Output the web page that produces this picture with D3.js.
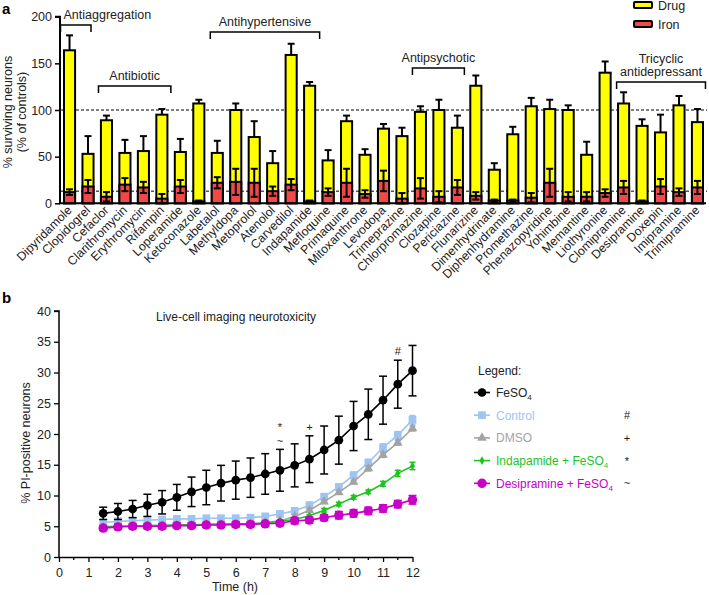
<!DOCTYPE html>
<html><head><meta charset="utf-8">
<script src="https://cdn.jsdelivr.net/npm/d3@7"></script>
<style>body{margin:0;background:#fff} svg{display:block;font-family:"Liberation Sans",Arial,Helvetica,sans-serif}</style>
</head><body><svg id="c" width="709" height="595"></svg>
<script>
// ---------- Panel a data ----------
const drugs = ["Dipyridamole","Clopidogrel","Cefaclor","Clarithromycin","Erythromycin","Rifampin","Loperamide","Ketoconazole","Labetalol","Methyldopa","Metoprolol","Atenolol","Carvedilol","Indapamide","Mefloquine","Primaquine","Mitoxanthrone","Levodopa","Trimeprazine","Chlorpromazine","Clozapine","Periciazine","Flunarizine","Dimenhydrinate","Diphenhydramine","Promethazine","Phenazopyridine","Yohimbine","Memantine","Liothyronine","Clomipramine","Desipramine","Doxepin","Imipramine","Trimipramine"];
const drugValues = [164,53,89,54,56,95,55,107,54,100,71,43,159,126,46,88,52,80,72,98,100,81,126,36,74,104,101,100,52,140,107,83,76,105,87];
const drugErrors = [16,19,5,14,16,6,14,4,13,7,17,13,12,4,11,6,6,5,9,6,11,13,11,7,8,9,10,5,14,12,12,7,19,10,14];
const ironValues = [12,18,7,20,17,5,18,2,22,23,22,13,20,2,12,22,10,24,5,16,7,17,8,3,3,6,22,7,7,11,17,2,18,12,17];
const ironErrors = [3,7,5,7,6,5,7,1,6,14,15,5,6,1,4,15,4,11,6,11,6,8,4,1,1,5,15,5,5,4,7,1,8,4,7];
const yTicksA = [0,50,100,150,200];
const refLines = [100, 13];
const groupLabels = [["Antiaggregation"],["Antibiotic"],["Antihypertensive"],["Antipsychotic"],["Tricyclic","antidepressant"]];
const groupFrom = ["Dipyridamole","Cefaclor","Labetalol","Chlorpromazine","Clomipramine"];
const groupTo = ["Clopidogrel","Rifampin","Indapamide","Periciazine","Trimipramine"];
const legendA = ["Drug","Iron"];

// ---------- Panel b data ----------
const times = [1.5,2,2.5,3,3.5,4,4.5,5,5.5,6,6.5,7,7.5,8,8.5,9,9.5,10,10.5,11,11.5,12];
const feso4 = [7.1,7.4,7.8,8.4,8.9,9.7,10.6,11.3,12.0,12.5,12.9,13.5,14.1,14.9,15.9,17.4,19.0,21.3,23.2,25.5,28.1,30.3];
const feso4Err = [1.0,1.3,1.4,1.8,1.9,2.1,2.4,2.8,2.9,3.1,3.2,3.3,3.4,3.5,3.8,3.9,3.9,4.0,4.1,3.9,3.9,4.1];
const control = [5.6,5.8,5.9,6.0,6.1,6.2,6.2,6.3,6.3,6.3,6.4,6.6,7.0,7.5,8.4,9.8,11.4,13.3,15.3,17.8,19.8,22.3];
const controlErr = [0.4,0.4,0.4,0.4,0.4,0.4,0.4,0.4,0.4,0.4,0.4,0.4,0.4,0.4,0.5,0.5,0.5,0.5,0.6,0.6,0.6,0.7];
const dmso = [4.8,5.0,5.0,5.1,5.1,5.2,5.2,5.3,5.3,5.3,5.4,5.6,5.9,6.6,7.6,9.0,10.5,12.2,14.4,16.6,18.6,20.9];
const dmsoErr = [0.2,0.2,0.2,0.2,0.2,0.2,0.2,0.2,0.2,0.2,0.2,0.2,0.2,0.3,0.3,0.3,0.3,0.3,0.4,0.4,0.4,0.4];
const indapamide = [4.9,5.0,5.0,5.1,5.1,5.2,5.2,5.3,5.3,5.4,5.4,5.5,5.8,6.1,6.7,7.6,8.6,9.7,10.6,11.9,13.6,14.8];
const indapamideErr = [0.2,0.2,0.2,0.2,0.2,0.2,0.2,0.2,0.2,0.2,0.2,0.2,0.2,0.2,0.2,0.3,0.3,0.3,0.3,0.4,0.5,0.6];
const desipramine = [4.7,4.9,5.0,5.0,5.0,5.1,5.1,5.2,5.2,5.3,5.3,5.4,5.5,5.9,6.0,6.4,6.8,7.1,7.5,7.9,8.6,9.3];
const desipramineErr = [0.4,0.4,0.4,0.4,0.4,0.4,0.4,0.4,0.4,0.4,0.4,0.4,0.4,0.5,0.5,0.5,0.6,0.6,0.6,0.6,0.6,0.7];
const xTicksB = [0,1,2,3,4,5,6,7,8,9,10,11,12];
const yTicksB = [0,5,10,15,20,25,30,35,40];
const seriesNames = ["FeSO4","Control","DMSO","Indapamide + FeSO4","Desipramine + FeSO4"];
const sigMarks = ["","#","+","*","~"];
const annotTimes = [7.5, 7.5, 8.5, 11.5];
const annotMarks = ["*","~","+","#"];

const svg = d3.select("#c");
const FONT = '"Liberation Sans",Arial,Helvetica,sans-serif';

// ================= PANEL A =================
const xA = d3.scaleBand().domain(drugs).range([60.3, 706.7]).paddingInner(0.4).paddingOuter(0.2);
const yA = d3.scaleLinear().domain([0,200]).range([203.3, 16.7]);
const gA = svg.append("g");

svg.append("text").attr("x",2).attr("y",14).attr("font-size",15).attr("font-weight","bold").text("a");

refLines.forEach(v=>{
  gA.append("line").attr("x1",61).attr("x2",707).attr("y1",yA(v)).attr("y2",yA(v))
    .attr("stroke","#000").attr("stroke-width",1).attr("stroke-dasharray","3,2");
});

const bw = xA.bandwidth();
const rows = drugs.map((d,i)=>({d, v:drugValues[i], e:drugErrors[i], iv:ironValues[i], ie:ironErrors[i]}));

rows.forEach(r=>{
  const cx = xA(r.d)+bw/2;
  gA.append("line").attr("x1",cx).attr("x2",cx).attr("y1",yA(r.v)).attr("y2",yA(r.v+r.e)).attr("stroke","#000").attr("stroke-width",2);
  gA.append("line").attr("x1",cx-3.5).attr("x2",cx+3.5).attr("y1",yA(r.v+r.e)).attr("y2",yA(r.v+r.e)).attr("stroke","#000").attr("stroke-width",2);
});
gA.selectAll("rect.drug").data(rows).join("rect").attr("class","drug")
  .attr("x",r=>xA(r.d)).attr("width",bw).attr("y",r=>yA(r.v)).attr("height",r=>yA(0)-yA(r.v))
  .attr("fill","#ffff00").attr("stroke","#000").attr("stroke-width",2);
gA.selectAll("rect.iron").data(rows).join("rect").attr("class","iron")
  .attr("x",r=>xA(r.d)).attr("width",bw).attr("y",r=>yA(r.iv)).attr("height",r=>yA(0)-yA(r.iv))
  .attr("fill","#f24848").attr("stroke","#000").attr("stroke-width",2);
rows.forEach(r=>{
  const cx = xA(r.d)+bw/2;
  const lo = Math.max(0, r.iv-r.ie), hi = r.iv+r.ie;
  gA.append("line").attr("x1",cx).attr("x2",cx).attr("y1",yA(lo)).attr("y2",yA(hi)).attr("stroke","#000").attr("stroke-width",2);
  [lo,hi].forEach(v=>gA.append("line").attr("x1",cx-3.5).attr("x2",cx+3.5).attr("y1",yA(v)).attr("y2",yA(v)).attr("stroke","#000").attr("stroke-width",2));
});

const yAxisA = d3.axisLeft(yA).tickValues(yTicksA).tickSize(5).tickPadding(3);
const ya = gA.append("g").attr("transform","translate(60,0)").call(yAxisA);
ya.select(".domain").attr("stroke-width",2).attr("d",`M-5,${yA(200)}H0V${yA(0)}`);
ya.selectAll(".tick line").attr("stroke-width",1.5);
ya.selectAll("text").attr("font-size",12.5).attr("font-family",FONT).attr("fill","#222");
gA.append("line").attr("x1",59).attr("x2",706).attr("y1",yA(0)).attr("y2",yA(0)).attr("stroke","#000").attr("stroke-width",2);

rows.forEach(r=>{
  const cx = xA(r.d)+bw/2+3;
  gA.append("text").attr("transform",`translate(${cx},${211}) rotate(-45)`)
    .attr("text-anchor","end").attr("font-size",12.3).attr("fill","#222").text(r.d);
});

gA.append("text").attr("transform","translate(12,112) rotate(-90)").attr("text-anchor","middle").attr("font-size",12.5).attr("fill","#222").text("% surviving neurons");
gA.append("text").attr("transform","translate(26,112) rotate(-90)").attr("text-anchor","middle").attr("font-size",12.5).attr("fill","#222").text("(% of controls)");

const bracketY = [25, 86, 32, 68, 82];
const bracketPad = [[-9,3],[-8,9],[-7,10],[-8,7],[-7,8]];
groupLabels.forEach((lab,i)=>{
  const x1 = xA(groupFrom[i])+bw/2+bracketPad[i][0];
  const x2 = xA(groupTo[i])+bw/2+bracketPad[i][1];
  const y = bracketY[i];
  gA.append("path").attr("d",`M${x1},${y+7}V${y}H${x2}V${y+7}`).attr("fill","none").attr("stroke","#000").attr("stroke-width",1.5);
  const left = i===0;
  lab.forEach((t,j)=>{
    gA.append("text").attr("x", left ? x1+3 : (x1+x2)/2)
      .attr("y", y-6-(lab.length-1-j)*13.5).attr("text-anchor", left?"start":"middle")
      .attr("font-size",12.5).attr("fill","#222").text(t);
  });
});

const legCols = ["#ffff00","#f24848"];
legendA.forEach((t,i)=>{
  const y = 5 + i*19;
  gA.append("rect").attr("x",634).attr("y",y-3).attr("width",18).attr("height",6).attr("rx",1)
    .attr("fill",legCols[i]).attr("stroke","#000").attr("stroke-width",2);
  gA.append("text").attr("x",658).attr("y",y+4.5).attr("font-size",12.5).attr("fill","#222").text(t);
});

// ================= PANEL B =================
const xB = d3.scaleLinear().domain([0,12]).range([59,412.5]);
const yB = d3.scaleLinear().domain([0,40]).range([557,311]);
const gB = svg.append("g");
svg.append("text").attr("x",2).attr("y",303).attr("font-size",15).attr("font-weight","bold").text("b");

const yAxisB = d3.axisLeft(yB).tickValues(yTicksB).tickSize(5).tickPadding(3);
const yb = gB.append("g").attr("transform","translate(59,0)").call(yAxisB);
yb.select(".domain").attr("stroke-width",1.5).attr("d",`M-5,${yB(40)}H0V${yB(0)}`);
yb.selectAll(".tick line").attr("stroke-width",1.3);
yb.selectAll("text").attr("font-size",12.5).attr("font-family",FONT).attr("fill","#222");

const xAxisB = d3.axisBottom(xB).tickValues(xTicksB).tickSize(5).tickPadding(6).tickSizeOuter(0);
const xb = gB.append("g").attr("transform",`translate(0,${yB(0)})`).call(xAxisB);
xb.select(".domain").attr("stroke-width",1.5);
xb.selectAll(".tick line").attr("stroke-width",1.3);
xb.selectAll("text").attr("font-size",12.5).attr("font-family",FONT).attr("fill","#222");
d3.range(0.5,12,1).forEach(t=>{
  gB.append("line").attr("x1",xB(t)).attr("x2",xB(t)).attr("y1",yB(0)).attr("y2",yB(0)+3).attr("stroke","#000").attr("stroke-width",1.3);
});

gB.append("text").attr("x",235).attr("y",591).attr("text-anchor","middle").attr("font-size",12.5).attr("fill","#222").text("Time (h)");
gB.append("text").attr("transform","translate(30,443) rotate(-90)").attr("text-anchor","middle").attr("font-size",12.5).attr("fill","#222").text("% PI-positive neurons");
gB.append("text").attr("x",236).attr("y",321).attr("text-anchor","middle").attr("font-size",12).attr("fill","#222").text("Live-cell imaging neurotoxicity");

const series = [
  {vals:feso4, err:feso4Err, color:"#000000", sym:d3.symbolCircle, size:60, capW:4},
  {vals:control, err:controlErr, color:"#9ec4f2", sym:d3.symbolSquare, size:60, capW:3},
  {vals:dmso, err:dmsoErr, color:"#a3a3a3", sym:d3.symbolTriangle, size:40, capW:3},
  {vals:indapamide, err:indapamideErr, color:"#1ec41e", sym:d3.symbolDiamond, size:22, capW:3},
  {vals:desipramine, err:desipramineErr, color:"#c800c8", sym:d3.symbolCircle, size:70, capW:4}
];
const drawOrder = [1,2,3,4,0];
const line = d3.line().x(d=>xB(d[0])).y(d=>yB(d[1]));
drawOrder.forEach(si=>{
  const s = series[si];
  const pts = times.map((t,i)=>[t,s.vals[i],s.err[i]]);
  const g = gB.append("g");
  pts.forEach(p=>{
    const cx = xB(p[0]);
    g.append("line").attr("x1",cx).attr("x2",cx).attr("y1",yB(p[1]-p[2])).attr("y2",yB(p[1]+p[2])).attr("stroke",s.color).attr("stroke-width",1.5);
    [p[1]-p[2],p[1]+p[2]].forEach(v=>g.append("line").attr("x1",cx-s.capW).attr("x2",cx+s.capW).attr("y1",yB(v)).attr("y2",yB(v)).attr("stroke",s.color).attr("stroke-width",1.5));
  });
  g.append("path").attr("d",line(pts)).attr("fill","none").attr("stroke",s.color).attr("stroke-width",1.6);
  g.selectAll("path.m").data(pts).join("path").attr("class","m")
    .attr("transform",p=>`translate(${xB(p[0])},${yB(p[1])})`)
    .attr("d",d3.symbol().type(s.sym).size(s.size)).attr("fill",s.color);
});

const annotY = [427, 441, 427, 351];
annotTimes.forEach((t,i)=>{
  gB.append("text").attr("x",xB(t)).attr("y",annotY[i]+4).attr("text-anchor","middle").attr("font-size",11).attr("fill","#222").text(annotMarks[i]);
});

gB.append("text").attr("x",478).attr("y",375).attr("font-size",12).attr("fill","#222").text("Legend:");
seriesNames.forEach((name,i)=>{
  const s = series[i];
  const y = 392.5 + i*22.7;
  gB.append("line").attr("x1",474).attr("x2",490).attr("y1",y).attr("y2",y).attr("stroke",s.color).attr("stroke-width",1.6);
  gB.append("path").attr("transform",`translate(482,${y})`).attr("d",d3.symbol().type(s.sym).size(s.size)).attr("fill",s.color);
  const txtColor = i===0 ? "#222" : s.color;
  const t = gB.append("text").attr("x",496).attr("y",y+4.5).attr("font-size",12).attr("fill",txtColor);
  if (name.indexOf("FeSO4")>=0) {
    t.append("tspan").text(name.replace("FeSO4","FeSO"));
    t.append("tspan").attr("font-size",8).attr("dy",3).text("4");
  } else t.text(name);
  if (sigMarks[i]) gB.append("text").attr("x",627).attr("y",y+4).attr("text-anchor","middle").attr("font-size",11).attr("fill","#222").text(sigMarks[i]);
});
</script></body></html>
